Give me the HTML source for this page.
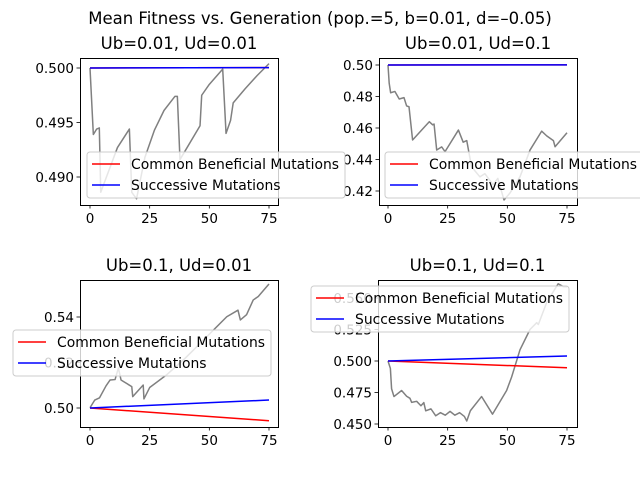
<!DOCTYPE html>
<html><head><meta charset="utf-8"><style>
body{margin:0;background:#fff}
svg{display:block;font-family:"DejaVu Sans","Liberation Sans",sans-serif}
</style></head><body>
<svg id="fig" width="640" height="480" viewBox="0 0 640 480">
<rect width="640" height="480" fill="#fff"/>
<text x="320" y="24" text-anchor="middle" font-size="16.5">Mean Fitness vs. Generation (pop.=5, b=0.01, d=–0.05)</text>
</svg>
<script>
// Panel 1: Ub=0.01, Ud=0.01
const p1GenX = [0,1.4,2.8,3.9,4.5,11.5,16.5,17.5,19.5,23,27,31,35.6,36.6,37.7,46.1,46.8,50,55.6,57,58.9,60,65,70,75];
const p1Mean = [0.5,0.4939,0.4944,0.4945,0.4886,0.4927,0.4944,0.4886,0.488,0.4918,0.4943,0.4961,0.4974,0.4974,0.4916,0.4947,0.4975,0.4985,0.4999,0.494,0.4952,0.4968,0.4981,0.4993,0.5004];
const p1Common = [0.5,0.50004];
const p1Successive = [0.5,0.50004];
// Panel 2: Ub=0.01, Ud=0.1
const p2GenX = [0,0.5,1.1,2.9,4.7,6.7,7.8,8.8,10.3,17.3,18.7,19.3,20.4,22.5,23.9,29.5,31.5,33,35,38.5,40.6,44,46,48.6,51.1,55.3,59.5,64.4,66.5,69.3,70,75];
const p2Mean = [0.5,0.4884,0.4824,0.4832,0.4784,0.4793,0.474,0.4735,0.4524,0.464,0.462,0.4625,0.446,0.448,0.445,0.4587,0.451,0.452,0.4354,0.429,0.431,0.424,0.428,0.4143,0.4187,0.429,0.446,0.458,0.455,0.452,0.4481,0.457];
const p2Common = [0.5,0.5001];
const p2Successive = [0.5,0.5001];
// Panel 3: Ub=0.1, Ud=0.01
const p3GenX = [0,2,4,6.7,8.4,10.5,11.9,13,17.5,17.9,22.3,22.6,25,32,40,48.9,57.3,62,63,65.6,68.4,70.5,74,75];
const p3Mean = [0.5001,0.5035,0.5045,0.5097,0.5123,0.5125,0.5176,0.5123,0.5094,0.505,0.5101,0.504,0.509,0.5145,0.522,0.5313,0.5401,0.543,0.5387,0.541,0.5475,0.549,0.5533,0.5545];
const p3Common = [0.5,0.4944];
const p3Successive = [0.5,0.5035];
// Panel 4: Ub=0.1, Ud=0.1
const p4GenX = [0,1,1.5,2.5,5.7,7.8,9.2,9.9,12,13.8,15,15.8,18,20,22,24,26,28,30,32,33,34.5,39.2,43.8,49.7,51.8,55.3,59.5,62.3,63,66.5,71.3,73.5,75];
const p4Mean = [0.5,0.4941,0.478,0.4718,0.4766,0.472,0.4704,0.4672,0.468,0.4645,0.467,0.4605,0.462,0.4565,0.459,0.457,0.46,0.457,0.459,0.456,0.4524,0.4605,0.4718,0.4578,0.4766,0.4873,0.5089,0.525,0.5304,0.529,0.5465,0.5613,0.559,0.5589];
const p4Common = [0.5,0.4946];
const p4Successive = [0.5,0.504];
const xTicks = [0,25,50,75];
const p1YTicks = [0.490,0.495,0.500];
const p2YTicks = [0.42,0.44,0.46,0.48,0.50];
const p3YTicks = [0.50,0.52,0.54];
const p4YTicks = [0.450,0.475,0.500,0.525,0.550];
const legendLabels = ["Common Beneficial Mutations","Successive Mutations"];

const NS="http://www.w3.org/2000/svg";
const svg=document.getElementById('fig');
function mk(tag,attrs,parent){const e=document.createElementNS(NS,tag);for(const k in attrs)e.setAttribute(k,attrs[k]);(parent||svg).appendChild(e);return e;}

const panels=[
 {title:"Ub=0.01, Ud=0.01",box:[80,58,278,205],x0:90,x1:269,ya:[0.5,68],yb:[0.49,177],gx:p1GenX,gy:p1Mean,c:p1Common,s:p1Successive,ticks:p1YTicks,dec:3,leg:[87,152]},
 {title:"Ub=0.01, Ud=0.1",box:[379,58,577,205],x0:388,x1:567,ya:[0.5,65],yb:[0.42,191],gx:p2GenX,gy:p2Mean,c:p2Common,s:p2Successive,ticks:p2YTicks,dec:2,leg:[385,152]},
 {title:"Ub=0.1, Ud=0.01",box:[80,280,278,427],x0:90,x1:269,ya:[0.5,408],yb:[0.54,317],gx:p3GenX,gy:p3Mean,c:p3Common,s:p3Successive,ticks:p3YTicks,dec:2,leg:[13,330]},
 {title:"Ub=0.1, Ud=0.1",box:[378,280,577,427],x0:388,x1:567,ya:[0.5,361],yb:[0.45,424],gx:p4GenX,gy:p4Mean,c:p4Common,s:p4Successive,ticks:p4YTicks,dec:3,leg:[311,286]}
];
const legends=[];
panels.forEach((p,i)=>{
 const X=v=>p.x0+(v/75)*(p.x1-p.x0);
 const Y=v=>p.ya[1]+(v-p.ya[0])/(p.yb[0]-p.ya[0])*(p.yb[1]-p.ya[1]);
 const [l,t,r,b]=p.box;
 const g=mk('g',{});
 
 
 const cp=mk('clipPath',{id:'clip'+i},g);mk('rect',{x:l,y:t,width:r-l,height:b-t},cp);
 const tt=mk('text',{x:(l+r)/2,y:t-9,'text-anchor':'middle','font-size':'16.5'},g);tt.textContent=p.title;
 
 
 const lines=mk('g',{'clip-path':'url(#clip'+i+')'},g);
 const gp=mk('polyline',{points:p.gx.map((x,j)=>X(x)+','+Y(p.gy[j])).join(' '),fill:'none',stroke:'#808080','stroke-width':1.5,'stroke-linejoin':'round'},lines);
 
 
 const rl=mk('line',{x1:X(0),y1:Y(p.c[0]),x2:X(75),y2:Y(p.c[1]),stroke:'#ff0000','stroke-width':1.5},lines);
 
 
 const bl=mk('line',{x1:X(0),y1:Y(p.s[0]),x2:X(75),y2:Y(p.s[1]),stroke:'#0000ff','stroke-width':1.5},lines);
 
 
 mk('rect',{x:l+0.5,y:t+0.5,width:r-l,height:b-t,fill:'none',stroke:'#000','stroke-width':1},g);
 xTicks.forEach(v=>{
  mk('line',{x1:X(v),y1:b,x2:X(v),y2:b+3.5,stroke:'#000','stroke-width':0.8},g);
  const tx=mk('text',{x:X(v),y:b+18,'text-anchor':'middle','font-size':'13.5'},g);tx.textContent=v;
  
  
 });
 p.ticks.forEach(v=>{
  mk('line',{x1:l-3.5,y1:Y(v),x2:l,y2:Y(v),stroke:'#000','stroke-width':0.8},g);
  const ty=mk('text',{x:l-6,y:Y(v)+5,'text-anchor':'end','font-size':'13.5'},g);ty.textContent=v.toFixed(p.dec);
  
  
 });
 legends.push(p.leg);
});
legends.forEach(([lx,ly])=>{
 const lg=mk('g',{});
 
 
 mk('rect',{x:lx,y:ly,width:258,height:46,rx:3,fill:'rgba(255,255,255,0.8)',stroke:'#cccccc','stroke-width':1},lg);
 ['#ff0000','#0000ff'].forEach((c,k)=>{
  const yy=ly+12+k*21;
  mk('line',{x1:lx+5,y1:yy,x2:lx+33,y2:yy,stroke:c,'stroke-width':1.5},lg);
  const t=mk('text',{x:lx+44,y:yy+5,'font-size':'13.9'},lg);t.textContent=legendLabels[k];
  
  
 });
});
</script>
</body></html>
